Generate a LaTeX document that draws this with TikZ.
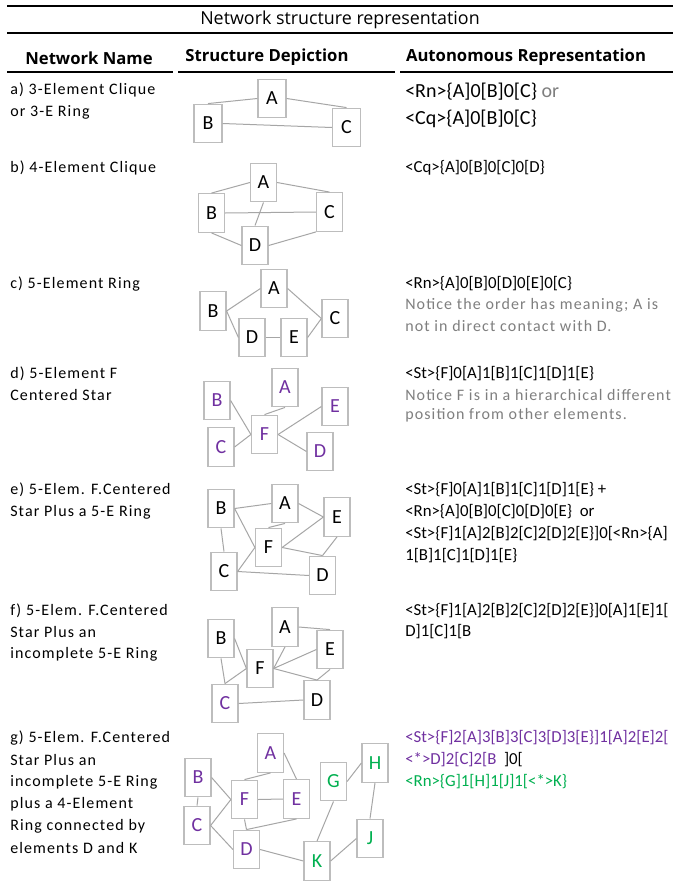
\documentclass[tikz,border=0pt]{standalone}
\usepackage{fontspec}
\setmainfont{Carlito}
\newfontfamily\hdfont{Open Sans}
\newfontfamily\spfont[LetterSpace=7]{Carlito}
\definecolor{boxgray}{HTML}{BDBDBD}
\definecolor{edgegray}{HTML}{A6A6A6}
\definecolor{vio}{HTML}{7030A0}
\definecolor{grn}{HTML}{00B050}
\definecolor{notegray}{HTML}{7F7F7F}
\tikzset{
  box/.style={draw=boxgray, line width=0.9pt, inner sep=0pt, minimum width=19.5pt, minimum height=29pt, font=\fontsize{15}{18}\selectfont},
  wbox/.style={box, minimum width=21pt},
  edge/.style={draw=edgegray, line width=0.75pt},
  rule/.style={line width=2.2pt},
  hrule/.style={line width=1.9pt},
  ttl/.style={font=\hdfont\fontsize{13.4}{16}\selectfont},
  hdr/.style={font=\hdfont\bfseries\fontsize{12.5}{15}\selectfont},
  lt/.style={anchor=west, inner sep=0pt, font=\spfont\fontsize{12}{14}\selectfont},
  rt/.style={anchor=west, inner sep=0pt, font=\fontsize{12.6}{15}\selectfont},
  rtbig/.style={anchor=west, inner sep=0pt, font=\fontsize{15}{18}\selectfont},
  note/.style={anchor=west, inner sep=0pt, font=\spfont\fontsize{12}{14}\selectfont, text=notegray},
}
\begin{document}
\begin{tikzpicture}[x=0.75pt,y=-0.75pt]
\useasboundingbox (0,0) rectangle (673,882);
\fill[white] (0,0) rectangle (673,882);
% rules
\draw[rule] (7,6) -- (673,6);
\draw[rule] (7,33) -- (673,33);
\draw[hrule] (7,72) -- (173,72);
\draw[hrule] (178,72) -- (395,72);
\draw[hrule] (400,72) -- (673,72);
\node[ttl] (title) at (340,20) {Network structure representation};
\node[hdr] (h1) at (89,58) {Network Name};
\node[hdr] (h2) at (267,57) {Structure Depiction};
\node[hdr] (h3) at (526,57) {Autonomous Representation};

% left column
\node[lt] (la1) at (10,90) {a) 3-Element Clique};
\node[lt] (la2) at (10,112) {or 3-E Ring};
\node[lt] (lb1) at (10,168) {b) 4-Element Clique};
\node[lt] (lc1) at (10,284) {c) 5-Element Ring};
\node[lt] (ld1) at (10,374) {d) 5-Element F};
\node[lt] (ld2) at (10,395) {Centered Star};
\node[lt] (le1) at (10,490) {e) 5-Elem. F.Centered};
\node[lt] (le2) at (10,512) {Star Plus a 5-E Ring};
\node[lt] (lf1) at (10,611) {f) 5-Elem. F.Centered};
\node[lt] (lf2) at (10,632) {Star Plus an};
\node[lt] (lf3) at (10,654) {incomplete 5-E Ring};
\node[lt] (lg1) at (10,738) {g) 5-Elem. F.Centered};
\node[lt] (lg2) at (10,760) {Star Plus an};
\node[lt] (lg3) at (10,782) {incomplete 5-E Ring};
\node[lt] (lg4) at (10,804) {plus a 4-Element};
\node[lt] (lg5) at (10,826) {Ring connected by};
\node[lt] (lg6) at (10,848) {elements D and K};

% right column
\node[rtbig] (ra1) at (405,92) {<Rn>\{A]0[B]0[C\} \textcolor{notegray}{or}};
\node[rtbig] (ra2) at (405,119) {<Cq>\{A]0[B]0[C\}};
\node[rt] (rb1) at (405,168) {<Cq>\{A]0[B]0[C]0[D\}};
\node[rt] (rc1) at (405,284) {<Rn>\{A]0[B]0[D]0[E]0[C\}};
\node[note] (rc2) at (405,305) {Notice the order has meaning; A is};
\node[note] (rc3) at (405,326) {not in direct contact with D.};
\node[rt] (rd1) at (405,374) {<St>\{F]0[A]1[B]1[C]1[D]1[E\}};
\node[note] (rd2) at (405,395) {Notice F is in a hierarchical different};
\node[note] (rd3) at (405,415) {position from other elements.};
\node[rt] (re1) at (405,490) {<St>\{F]0[A]1[B]1[C]1[D]1[E\} +};
\node[rt] (re2) at (405,512) {<Rn>\{A]0[B]0[C]0[D]0[E\}\ \ or};
\node[rt] (re3) at (405,534) {<St>\{F]1[A]2[B]2[C]2[D]2[E\}]0[<Rn>\{A]};
\node[rt] (re4) at (405,556) {1[B]1[C]1[D]1[E\}};
\node[rt] (rf1) at (405,611) {<St>\{F]1[A]2[B]2[C]2[D]2[E\}]0[A]1[E]1[};
\node[rt] (rf2) at (405,632) {D]1[C]1[B};
\node[rt, text=vio] (rg1) at (405,738) {<St>\{F]2[A]3[B]3[C]3[D]3[E\}]1[A]2[E]2[};
\node[rt] (rg2) at (405,760) {\textcolor{vio}{<*>D]2[C]2[B}\ \ ]0[};
\node[rt, text=grn] (rg3) at (405,782) {<Rn>\{G]1[H]1[J]1[<*>K\}};

% a) 3-element clique
\node[wbox] (aA) at (272,98.5) {A};
\node[wbox] (aB) at (208,123.5) {B};
\node[wbox] (aC) at (346.5,127.5) {C};
\draw[edge] (aB.north) -- (aA.west);
\draw[edge] (aA.east) -- (aC.north);
\draw[edge] (aB.east) -- (aC.west);

% b) 4-element clique
\node[box] (bA) at (263.5,182.5) {A};
\node[box] (bB) at (211.5,213) {B};
\node[box] (bC) at (329.5,212) {C};
\node[box] (bD) at (255,245.5) {D};
\draw[edge] (bB.north) -- (bA.west);
\draw[edge] (bA.east) -- (bC.north);
\draw[edge] (bB.east) -- (bC.west);
\draw[edge] (bA.south) -- (bD.north);
\draw[edge] (bB.south) -- (bD.west);
\draw[edge] (bD.east) -- (bC.south west);

% c) 5-element ring
\node[box] (cA) at (274,288.5) {A};
\node[box] (cB) at (213,311) {B};
\node[box] (cC) at (335,318.5) {C};
\node[box] (cD) at (252,337.5) {D};
\node[box] (cE) at (294,337.5) {E};
\draw[edge] (cB.east) -- (cA.west);
\draw[edge] (cA.east) -- (cC.west);
\draw[edge] (cB.east) -- (cD.west);
\draw[edge] (cD.east) -- (cE.west);
\draw[edge] (cE.east) -- (cC.west);

% d) star
\begin{scope}[every node/.append style={text=vio}]
\node[box] (dA) at (285,387.5) {A};
\node[box] (dB) at (217,400.5) {B};
\node[box] (dE) at (335,406.5) {E};
\node[box] (dF) at (264.5,434.5) {F};
\node[box] (dC) at (221,447) {C};
\node[box] (dD) at (320,451.5) {D};
\end{scope}
\draw[edge] (dB.east) -- (dF.west);
\draw[edge] (dA.south) -- (dF.north);
\draw[edge] (dC.east) -- (dF.west);
\draw[edge] (dF.east) -- (dE.west);
\draw[edge] (dF.east) -- (dD.west);

% e) star plus ring
\node[box] (eB) at (221,508.5) {B};
\node[box] (eA) at (285,503.5) {A};
\node[box] (eE) at (337,517) {E};
\node[box] (eF) at (268.5,547.5) {F};
\node[box] (eC) at (224,571.5) {C};
\node[box] (eD) at (322.5,575.5) {D};
\draw[edge] (eB.east) -- (eA.west);
\draw[edge] (eA.east) -- (eE.west);
\draw[edge] (eB.east) -- (eF.west);
\draw[edge] (eA.south) -- (eF.north);
\draw[edge] (eF.east) -- (eE.west);
\draw[edge] (eF.east) -- (eD.north);
\draw[edge] (eE.south) -- (eD.north);
\draw[edge] (eB.south) -- (eC.north);
\draw[edge] (eC.east) -- (eF.west);
\draw[edge] (eC.east) -- (eD.west);

% f) star plus incomplete ring
\node[box] (fA) at (285,627) {A};
\node[box] (fB) at (221,638.5) {B};
\node[box] (fE) at (330,649.5) {E};
\node[box] (fF) at (260,668.5) {F};
\node[box, text=vio] (fC) at (225,703.5) {C};
\node[box] (fD) at (317,700) {D};
\draw[edge] (fA.east) -- (fE.north);
\draw[edge] (fB.east) -- (fF.west);
\draw[edge] (fB.south) -- (fC.north);
\draw[edge] (fA.south) -- (fF.east);
\draw[edge] (fF.east) -- (fE.west);
\draw[edge] (fF.east) -- (fD.north);
\draw[edge] (fE.south) -- (fD.north);
\draw[edge] (fC.north) -- (fF.west);
\draw[edge] (fC.east) -- (fD.west);

% g) combined
\begin{scope}[every node/.append style={text=vio}]
\node[box] (gA) at (270.5,753) {A};
\node[box] (gB) at (198,777.5) {B};
\node[box] (gC) at (197,825.5) {C};
\node[box] (gF) at (244.5,799.5) {F};
\node[box] (gE) at (296.5,799) {E};
\node[box] (gD) at (246.5,849.5) {D};
\end{scope}
\begin{scope}[every node/.append style={text=grn}]
\node[box] (gG) at (333.5,781.5) {G};
\node[box] (gH) at (375,763) {H};
\node[box] (gJ) at (370,838.5) {J};
\node[box] (gK) at (317,861) {K};
\end{scope}
\draw[edge] (gB.south) -- (gC.north);
\draw[edge] (gB.east) -- (gF.west);
\draw[edge] (gC.east) -- (gF.west);
\draw[edge] (gC.east) -- (gD.west);
\draw[edge] (gA.south) -- (gF.north);
\draw[edge] (gA.east) -- (gE.north);
\draw[edge] (gF.east) -- (gE.west);
\draw[edge] (gF.south) -- (gD.north);
\draw[edge] (gD.north) -- (gE.south);
\draw[edge] (gD.east) -- (gK.west);
\draw[edge] (gG.east) -- (gH.west);
\draw[edge] (gG.south) -- (gK.north);
\draw[edge] (gH.south) -- (gJ.north);
\draw[edge] (gK.east) -- (gJ.west);
\end{tikzpicture}
\end{document}
